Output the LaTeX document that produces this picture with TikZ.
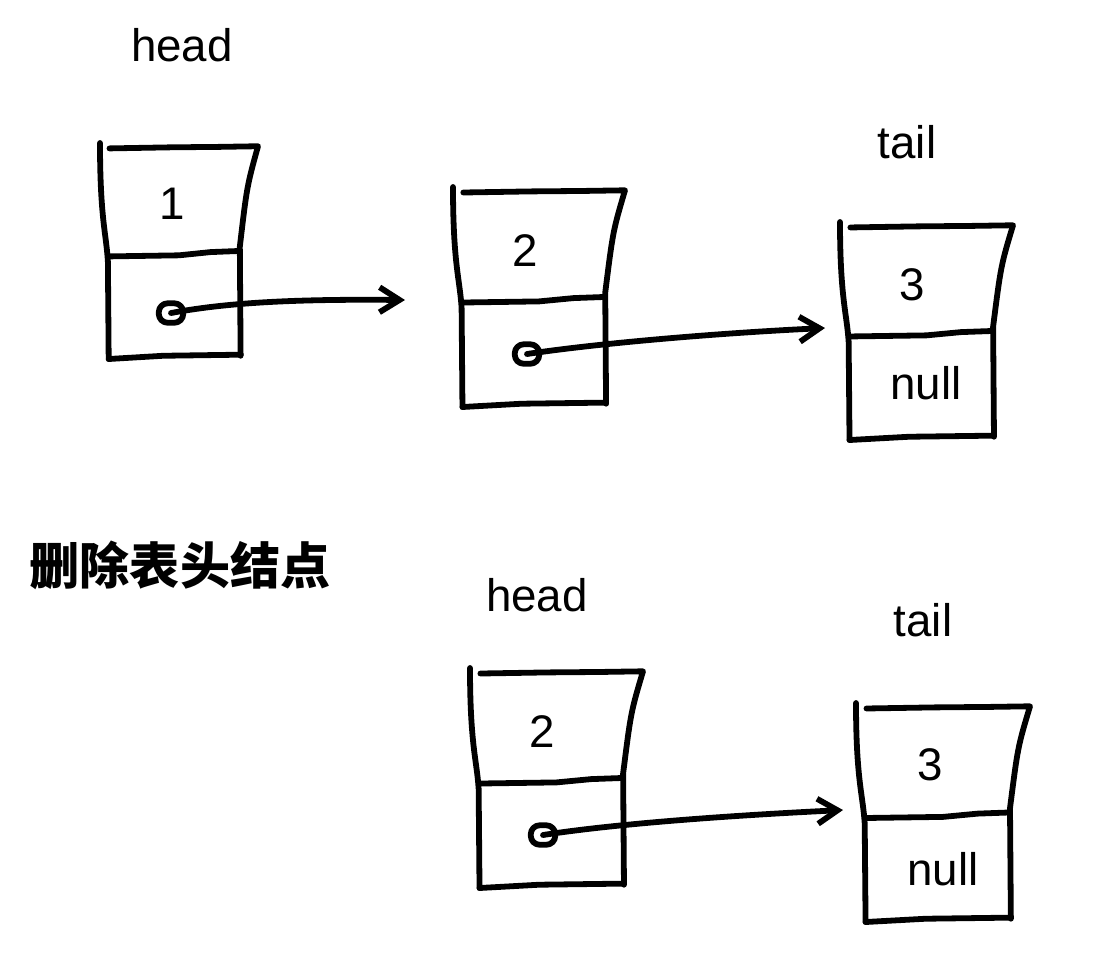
\documentclass[tikz,border=0pt]{standalone}
\usepackage{fontspec}
\setmainfont{Liberation Sans}
\newfontfamily\cjkfont{Noto Sans CJK SC}
\usepackage{tikz}
\usetikzlibrary{arrows.meta}

\begin{document}
\begin{tikzpicture}[x=0.02cm, y=-0.02cm, line width=3.3pt, line cap=round, line join=round,
    >={Straight Barb[length=4mm,width=5mm]},
    lbl/.style={font=\fontsize{26}{30}\selectfont, inner sep=0pt},
    ptr/.style={draw, rounded corners=1.8mm, minimum width=4.9mm, minimum height=3.9mm, inner sep=0pt}]
    \useasboundingbox (0,0) rectangle (1104,958);
    % hand drawn list cells: x/y of top left, width, height
    \foreach \bx/\by/\bw/\bh in {100/143/158/216, 453/187/172/220, 840/222/173/218, 470/668/173/220, 856/703/174/219}{
      \begin{scope}[shift={(\bx,\by)}, xscale=\bw, yscale=\bh]
        \draw (0,0) .. controls (0,0.35) and (0.04,0.42) .. (0.05,0.55) -- (0.055,1);
        \draw (0.06,0.025) -- (0.45,0.02) -- (0.75,0.018) -- (1,0.015) .. controls (0.93,0.2) .. (0.885,0.48) -- (0.89,0.985);
        \draw (0.06,0.525) -- (0.5,0.52) -- (0.7,0.505) -- (0.875,0.5);
        \draw (0.055,1) -- (0.4,0.985) -- (0.89,0.98);
      \end{scope}
    }
    \node[lbl] (head1) at (182,45) {head};
    \node[lbl] (v1) at (172,204) {1};
    \node[ptr] (p1) at (171,313) {};
    \coordinate (a1) at (405,300);
    \draw[->] (p1.center) .. controls (230,302) and (300,299) .. (a1);
    \node[lbl] (v2) at (525,251) {2};
    \node[ptr] (p2) at (527,354) {};
    \coordinate (a2) at (825,328);
    \draw[->] (p2.center) .. controls (600,343) and (720,333) .. (a2);
    \node[lbl] (tail1) at (907,142) {tail};
    \node[lbl] (v3) at (912,285) {3};
    \node[lbl] (null1) at (926,383) {null};
    \node[font=\fontsize{28.5}{32}\selectfont, inner sep=0pt] (title) at (180,565) {\cjkfont\bfseries 删除表头结点};
    \node[lbl] (head2) at (537,595) {head};
    \node[lbl] (v2b) at (542,732) {2};
    \node[ptr] (p2b) at (543,835) {};
    \coordinate (a3) at (843,810);
    \draw[->] (p2b.center) .. controls (620,823) and (740,815) .. (a3);
    \node[lbl] (tail2) at (923,620) {tail};
    \node[lbl] (v3b) at (930,765) {3};
    \node[lbl] (null2) at (943,869) {null};
\end{tikzpicture}
\end{document}
